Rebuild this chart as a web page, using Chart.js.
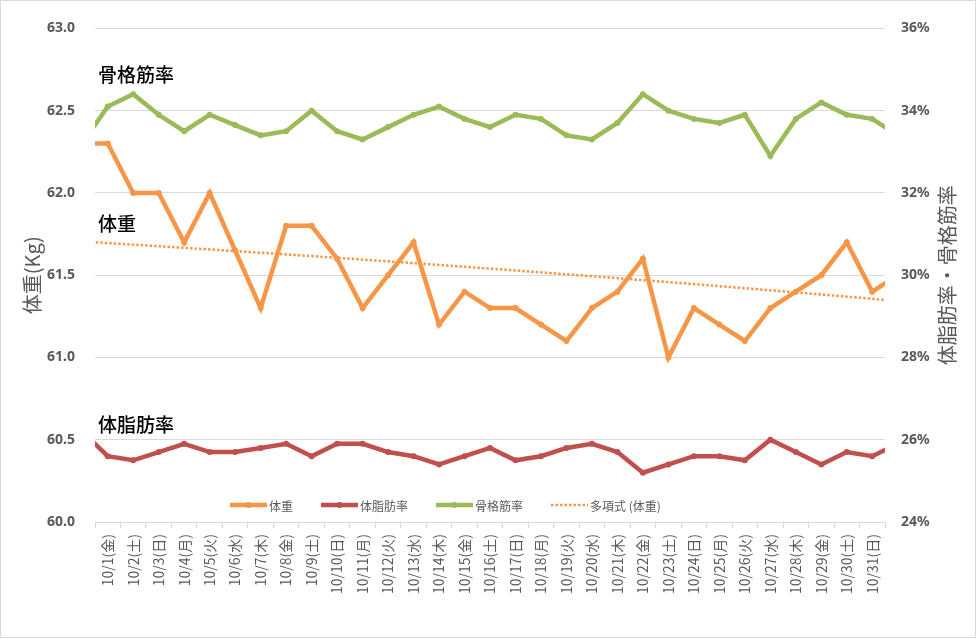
<!DOCTYPE html>
<html>
<head>
<meta charset="utf-8">
<script src="https://cdn.jsdelivr.net/npm/chart.js@4.4.1/dist/chart.umd.min.js"></script>
<style>
  html, body { margin: 0; padding: 0; background: #fff; }
  canvas { display: block; }
</style>
</head>
<body>
<canvas id="c" width="977" height="639"></canvas>
<script>
// 9/30 and 11/1 sit outside the visible range; the lines run into the plot edges
var DATES = ['9/30(木)',
  '10/1(金)','10/2(土)','10/3(日)','10/4(月)','10/5(火)','10/6(水)','10/7(木)','10/8(金)','10/9(土)','10/10(日)',
  '10/11(月)','10/12(火)','10/13(水)','10/14(木)','10/15(金)','10/16(土)','10/17(日)','10/18(月)','10/19(火)','10/20(水)',
  '10/21(木)','10/22(金)','10/23(土)','10/24(日)','10/25(月)','10/26(火)','10/27(水)','10/28(木)','10/29(金)','10/30(土)','10/31(日)',
  '11/1(月)'];

var WEIGHT = [62.3,
  62.3,62.0,62.0,61.7,62.0,61.65,61.3,61.8,61.8,61.6,
  61.3,61.5,61.7,61.2,61.4,61.3,61.3,61.2,61.1,61.3,
  61.4,61.6,61.0,61.3,61.2,61.1,61.3,61.4,61.5,61.7,61.4,
  61.5];

var FAT = [26.2,
  25.6,25.5,25.7,25.9,25.7,25.7,25.8,25.9,25.6,25.9,
  25.9,25.7,25.6,25.4,25.6,25.8,25.5,25.6,25.8,25.9,
  25.7,25.2,25.4,25.6,25.6,25.5,26.0,25.7,25.4,25.7,25.6,
  25.9];

var MUSCLE = [33.2,
  34.1,34.4,33.9,33.5,33.9,33.65,33.4,33.5,34.0,33.5,
  33.3,33.6,33.9,34.1,33.8,33.6,33.9,33.8,33.4,33.3,
  33.7,34.4,34.0,33.8,33.7,33.9,32.9,33.8,34.2,33.9,33.8,
  33.4];

// polynomial (order 2) trendline of 体重:
// kg = c0 + c1*u + c2*u^2, with u = (index - 16) / 15.5
var TREND_COEF = [61.54, -0.175, -0.015];

var SERIES_NAMES = ['体重', '体脂肪率', '骨格筋率', '多項式 (体重)'];
var LEFT_TITLE = '体重(Kg)';
var RIGHT_TITLE = '体脂肪率・骨格筋率';

// labels written on the plot, with the weight value where each one sits
var NOTE_TEXT = ['骨格筋率', '体重', '体脂肪率'];
var NOTE_KG = [62.72, 61.81, 60.59];

var ORANGE = '#F79646', RED = '#C0504D', GREEN = '#9BBB59', GREY = '#595959', GRID = '#D9D9D9';
var JP = '"Noto Sans CJK JP", "Noto Sans", sans-serif';

var TREND = DATES.map(function(d, i){
  var u = (i - 16)/15.5;
  return TREND_COEF[0] + TREND_COEF[1]*u + TREND_COEF[2]*u*u;
});

var lineSet = function(label, data, color, axis){
  return {
    label: label, data: data, yAxisID: axis,
    borderColor: color, backgroundColor: color, borderWidth: 4.5,
    pointRadius: 3, pointHoverRadius: 3, pointBorderWidth: 0, pointBackgroundColor: color,
    tension: 0, clip: 0
  };
}

var decor = {
  id: 'decor',
  beforeDraw: function(chart){
    var ctx = chart.ctx;
    ctx.save();
    ctx.fillStyle = '#fff';
    ctx.fillRect(0, 0, chart.width, chart.height);
    ctx.restore();
  },
  afterDraw: function(chart){
    var ctx = chart.ctx, area = chart.chartArea, y = chart.scales.y;
    ctx.save();

    // outer frame
    ctx.strokeStyle = GRID;
    ctx.lineWidth = 1;
    ctx.strokeRect(0.5, 0.5, chart.width - 2, chart.height - 2);

    // notes on the plot
    ctx.fillStyle = '#000';
    ctx.font = '500 19px ' + JP;
    ctx.textBaseline = 'middle';
    ctx.textAlign = 'left';
    NOTE_TEXT.forEach(function(t, i){
      ctx.fillText(t, area.left + 3, y.getPixelForValue(NOTE_KG[i]));
    });

    // axis titles, both read bottom to top
    ctx.fillStyle = GREY;
    ctx.font = '20px ' + JP;
    ctx.textAlign = 'center';
    var mid = (area.top + area.bottom)/2;
    ctx.save();
    ctx.translate(32, mid);
    ctx.rotate(-Math.PI/2);
    ctx.fillText(LEFT_TITLE, 0, 0);
    ctx.restore();
    ctx.save();
    ctx.translate(947, mid);
    ctx.rotate(-Math.PI/2);
    ctx.fillText(RIGHT_TITLE, 0, 0);
    ctx.restore();

    // legend inside the plot, near the bottom
    ctx.font = '12px ' + JP;
    ctx.textAlign = 'left';
    var lx = area.left + 135, ly = area.bottom - 17, sample = 37;
    chart.data.datasets.forEach(function(ds){
      ctx.save();
      ctx.strokeStyle = ds.borderColor;
      ctx.lineWidth = ds.borderDash ? 2.5 : 4.5;
      if(ds.borderDash) ctx.setLineDash(ds.borderDash);
      ctx.beginPath();
      ctx.moveTo(lx, ly);
      ctx.lineTo(lx + sample, ly);
      ctx.stroke();
      if(ds.pointRadius){
        ctx.fillStyle = ds.borderColor;
        ctx.beginPath();
        ctx.arc(lx + sample/2, ly, 3, 0, Math.PI*2);
        ctx.fill();
      }
      ctx.restore();
      ctx.fillStyle = GREY;
      ctx.fillText(ds.label, lx + sample + 2, ly + 1);
      lx += sample + 2 + ctx.measureText(ds.label).width + 28;
    });

    ctx.restore();
  }
}

var trendSet = {
  label: SERIES_NAMES[3], data: TREND, yAxisID: 'y',
  borderColor: ORANGE, backgroundColor: ORANGE, borderWidth: 2.5, borderDash: [2.5, 2],
  pointRadius: 0, pointHoverRadius: 0, tension: 0, clip: 0
};

new Chart(document.getElementById('c'), {
  type: 'line',
  data: {
    labels: DATES,
    datasets: [
      lineSet(SERIES_NAMES[0], WEIGHT, ORANGE, 'y'),
      lineSet(SERIES_NAMES[1], FAT, RED, 'y1'),
      lineSet(SERIES_NAMES[2], MUSCLE, GREEN, 'y1'),
      trendSet
    ]
  },
  options: {
    responsive: false,
    animation: false,
    layout: { padding: { top: 16, left: 0, right: 0, bottom: 0 } },
    plugins: { legend: { display: false }, tooltip: { enabled: false } },
    scales: {
      x: {
        type: 'category',
        offset: true,
        grid: { offset: true, drawOnChartArea: false, drawTicks: true, tickLength: 6, color: GRID },
        border: { display: true, color: GRID },
        ticks: {
          autoSkip: false, minRotation: 90, maxRotation: 90, padding: 6,
          color: GREY, font: { family: JP, size: 14 }
        },
        // show 10/1..10/31 only; the outer days stay in the data so every line is drawn
        afterDataLimits: function(s){ s.min = 1; s.max = 31; },
        afterFit: function(s){ s.height = 117; }
      },
      y: {
        position: 'left',
        min: 60, max: 63,
        grid: { color: GRID, drawTicks: false },
        border: { display: false },
        ticks: {
          stepSize: 0.5, padding: 20, color: GREY,
          font: { family: '"Noto Sans", sans-serif', size: 14, weight: 'bold' },
          callback: function(v){ return v.toFixed(1); }
        },
        afterFit: function(s){ s.width = 95; }
      },
      y1: {
        position: 'right',
        min: 24, max: 36,
        grid: { drawOnChartArea: false, drawTicks: false },
        border: { display: false },
        ticks: {
          stepSize: 2, padding: 16, color: GREY,
          font: { family: '"Noto Sans", sans-serif', size: 14, weight: 'bold' },
          callback: function(v){ return v + '%'; }
        },
        afterFit: function(s){ s.width = 92; }
      }
    }
  },
  plugins: [decor]
});
</script>
</body>
</html>
